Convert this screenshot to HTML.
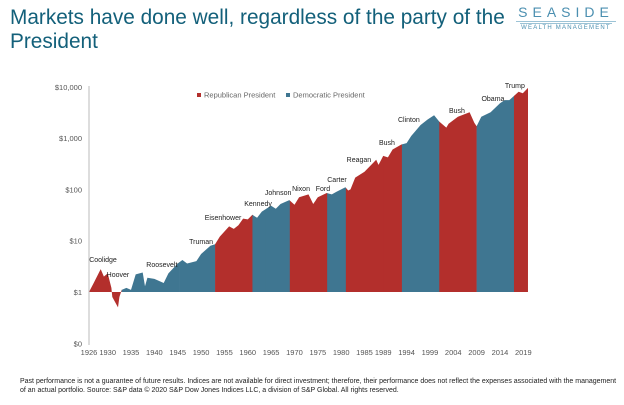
<!DOCTYPE html>
<html><head><meta charset="utf-8"><style>
body{margin:0;width:624px;height:405px;background:#fff;overflow:hidden;font-family:"Liberation Sans",Arial,sans-serif;position:relative}
.t{position:absolute;left:10px;top:6px;font-size:20.8px;line-height:24px;color:#13607a;width:505px}
.logo{position:absolute;left:514px;top:4px;width:104px;text-align:center;color:#4b8fb0}
.foot{position:absolute;left:20px;top:377px;font-size:7px;line-height:9px;color:#222;width:600px}
</style></head><body>
<div class="t">Markets have done well, regardless of the party of the President</div>
<div class="logo"><div style="font-size:14px;letter-spacing:5px">SEASIDE</div><div style="height:1px;background:#9cc3d6;margin:1px 2px"></div><div style="height:1px;background:#9cc3d6;margin:1px 6px"></div><div style="font-size:6px;letter-spacing:1.2px;color:#4b8fb0">WEALTH MANAGEMENT</div></div>
<svg id="c" width="624" height="405" style="position:absolute;left:0;top:0"></svg>
<div class="foot">Past performance is not a guarantee of future results. Indices are not available for direct investment; therefore, their performance does not reflect the expenses associated with the management of an actual portfolio. Source: S&amp;P data © 2020 S&amp;P Dow Jones Indices LLC, a division of S&amp;P Global. All rights reserved.</div>
<script>
const years=[1926,1927,1928.5,1929.2,1930,1930.8,1931,1932.2,1932.5,1933,1934,1935,1936,1937.5,1938,1938.5,1940,1942,1943,1945,1946,1947,1949,1950,1952,1953,1954,1956,1957,1958,1959,1960,1961,1962,1963,1965,1966,1967,1968.9,1970,1971,1973,1974,1975,1976.9,1978,1979,1980.9,1981.5,1982,1983,1985,1987.5,1988,1989,1990,1991,1992.9,1994,1995,1997,1998.5,1999.9,2001,2002.5,2003,2005,2007.5,2008.5,2009,2010,2012,2014,2015,2016,2016.9,2018,2018.9,2020];
const values=[1,1.5,2.8,2.0,2.3,1.2,0.8,0.5,0.8,1.1,1.2,1.1,2.2,2.4,1.3,1.9,1.8,1.5,2.3,3.6,4.2,3.6,4.0,5.5,8,8.5,12,19,17,20,27,26,32,28,37,48,42,52,62,50,70,80,52,70,85,80,90,110,95,100,170,220,380,300,450,420,600,750,800,1100,1800,2300,2800,2100,1600,1900,2600,3200,2000,1700,2600,3200,4800,5500,5500,6500,8000,7500,9500];
const termStart=[1926,1929.2,1933,1945.3,1953,1961,1963.9,1969,1974.6,1977,1981,1989,1993,2001,2009,2017];
const termEnd=[1929.2,1933,1945.3,1953,1961,1963.9,1969,1974.6,1977,1981,1989,1993,2001,2009,2017,2020];
const termParty=["R","R","D","D","R","D","D","R","R","D","R","R","D","R","D","R"];
const labelNames=["Coolidge","Hoover","Roosevelt","Truman","Eisenhower","Kennedy","Johnson","Nixon","Ford","Carter","Reagan","Bush","Clinton","Bush","Obama","Trump"];
const labelYear=[1929.0,1932.2,1941.6,1950.0,1954.7,1962.2,1966.5,1971.4,1976.1,1979.1,1983.8,1989.8,1994.5,2004.8,2012.5,2017.2];
const labelVal=[3.84,1.96,3.07,8.6,25.3,47.3,78,93,93,139,343,735,2050,3060,5300,9500];
const yTicks=[0.1,1,10,100,1000,10000];
const yTickLabels=["$0","$1","$10","$100","$1,000","$10,000"];
const xTicks=[1926,1930,1935,1940,1945,1950,1955,1960,1965,1970,1975,1980,1985,1989,1994,1999,2004,2009,2014,2019];
const NS="http://www.w3.org/2000/svg",svg=document.getElementById('c');
const X=y=>89+(y-1926)*4.67, Y=v=>292-Math.log10(v)*51.3;
function mk(t,a,p){const e=document.createElementNS(NS,t);for(const k in a)e.setAttribute(k,a[k]);(p||svg).appendChild(e);return e;}
let d="M"+X(years[0])+","+Y(1);years.forEach((yr,i)=>d+="L"+X(yr).toFixed(1)+","+Y(values[i]).toFixed(1));d+="L"+X(years[years.length-1])+","+Y(1)+"Z";
const defs=mk('defs',{});
termStart.forEach((s,i)=>{
 const cp=mk('clipPath',{id:'cp'+i},defs);
 mk('rect',{x:X(s),y:0,width:X(termEnd[i])-X(s)+0.3,height:405},cp);
 const p=mk('path',{d:d,fill:termParty[i]=="R"?"#b32f2c":"#3f7691","clip-path":"url(#cp"+i+")"});
 
 
});
const ax=mk('line',{x1:89,y1:86,x2:89,y2:345,stroke:"#bbb","stroke-width":1});

yTicks.forEach((v,i)=>{const t=mk('text',{x:82,y:Y(v)+3,"text-anchor":"end","font-size":7.5,fill:"#555"});t.textContent=yTickLabels[i];
});
xTicks.forEach(v=>{const t=mk('text',{x:X(v),y:355,"text-anchor":"middle","font-size":7.5,fill:"#555"});t.textContent=v;
});
labelNames.forEach((n,i)=>{const t=mk('text',{x:X(labelYear[i]),y:Y(labelVal[i]),"text-anchor":"middle","font-size":7,fill:"#222"});t.textContent=n;
});
const lg=[[197,"#b32f2c","Republican President"],[286,"#3f7691","Democratic President"]];
lg.forEach(l=>{const r=mk('rect',{x:l[0],y:93,width:4,height:4,fill:l[1]});
const t=mk('text',{x:l[0]+7,y:97.5,"font-size":7.5,fill:"#666"});t.textContent=l[2];});
</script>
</body></html>
